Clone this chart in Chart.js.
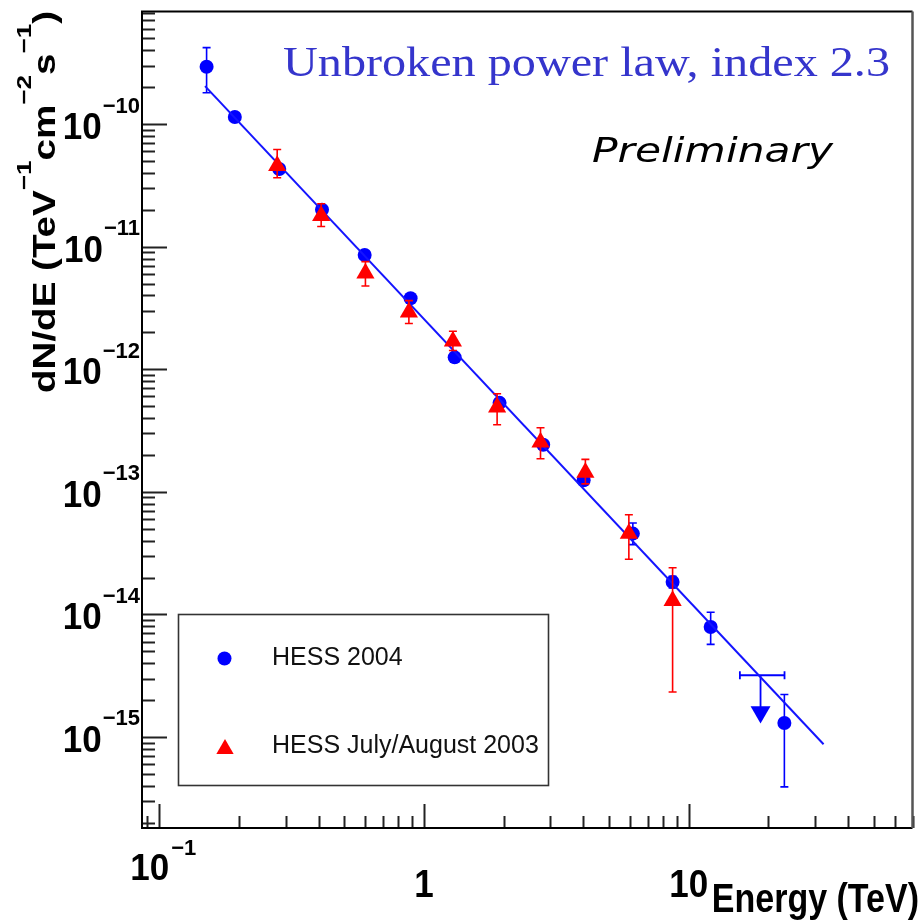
<!DOCTYPE html>
<html>
<head>
<meta charset="utf-8">
<title>HESS spectrum - unbroken power law</title>
<script src="https://cdn.jsdelivr.net/npm/chart.js@4.4.0/dist/chart.umd.min.js"></script>
<style>
    html, body { margin: 0; padding: 0; background: #fff; }
    #wrap { width: 924px; height: 924px; }
</style>
</head>
<body>
<div id="wrap"><canvas id="chartSpectrum" width="924" height="924"></canvas></div>
<script>
"use strict";

// ============================
// Data
// ============================
const seriesLabels = ["HESS 2004", "HESS July/August 2003"];

// HESS 2004 (blue circles)
const hess04Energy = [0.151, 0.193, 0.284, 0.412, 0.597, 0.89, 1.306, 1.93, 2.82, 4.01, 6.15, 8.69, 12.1, 22.97];
const hess04Flux   = [2.93e-10, 1.14e-10, 4.3e-11, 2.0e-11, 8.55e-12, 3.79e-12, 1.25e-12, 5.32e-13, 2.42e-13, 1.24e-13, 4.56e-14, 1.84e-14, 7.89e-15, 1.30e-15];
const hess04FluxHi = [4.2e-10, 1.22e-10, 4.6e-11, 2.12e-11, 9.0e-12, 3.98e-12, 1.31e-12, 5.65e-13, 2.62e-13, 1.36e-13, 5.56e-14, 2.05e-14, 1.04e-14, 2.22e-15];
const hess04FluxLo = [1.8e-10, 1.07e-10, 4.0e-11, 1.88e-11, 8.1e-12, 3.6e-12, 1.19e-12, 5.0e-13, 2.22e-13, 1.14e-13, 3.71e-14, 1.64e-14, 5.7e-15, 3.92e-16];

// HESS July/August 2003 (red triangles)
const hess03Energy = [0.279, 0.409, 0.601, 0.877, 1.286, 1.889, 2.755, 4.07, 5.94, 8.69];
const hess03Flux   = [4.57e-11, 1.79e-11, 6.08e-12, 2.92e-12, 1.69e-12, 4.9e-13, 2.54e-13, 1.44e-13, 4.56e-14, 1.29e-14];
const hess03FluxHi = [6.2e-11, 2.24e-11, 7.55e-12, 3.63e-12, 2.04e-12, 6.3e-13, 3.33e-13, 1.84e-13, 6.5e-14, 2.4e-14];
const hess03FluxLo = [3.65e-11, 1.46e-11, 4.78e-12, 2.36e-12, 1.42e-12, 3.52e-13, 1.86e-13, 1.16e-13, 2.82e-14, 2.33e-15];

// HESS 2004 upper limit (bin width + arrow)
const ulEnergy   = [18.67];
const ulEnergyLo = [15.6];
const ulEnergyHi = [23.0];
const ulFlux     = [3.19e-15];
const ulMarkFlux = [1.6e-15];

// Power law fit, index 2.3
const fitEnergy = [0.149, 32.3];
const fitFlux   = [2.04e-10, 8.73e-16];

// Axes
const xRange = [0.0861, 70];
const yRange = [1.81e-16, 8.28e-10];
const xTickValues = [0.1, 1, 10];
const xTickBase   = ["10", "1", "10"];
const xTickExp    = ["\u22121", "", ""];
const yTickValues = [1e-15, 1e-14, 1e-13, 1e-12, 1e-11, 1e-10];
const yTickExp    = ["\u221215", "\u221214", "\u221213", "\u221212", "\u221211", "\u221210"];
const minorSteps  = [2, 3, 4, 5, 6, 7, 8, 9];

// Texts
const yTitleParts = [
    { t: "dN/dE (TeV", sup: false },
    { t: "\u22121", sup: true },
    { t: "cm", sup: false },
    { t: "\u22122", sup: true },
    { t: "s", sup: false },
    { t: "\u22121", sup: true },
    { t: ")", sup: false },
];
const xTitleText = "Energy (TeV)";
const titleText = "Unbroken power law, index 2.3";
const prelimText = "Preliminary";

// ============================
// Helpers
// ============================
const SANS = "'Liberation Sans', Arial, Helvetica, sans-serif";
const BLUE = "#0000ff";
const RED = "#ff0000";

function toPoints(xs, ys) {
    return xs.map((x, i) => ({ x, y: ys[i] }));
}

function drawText(ctx, text, x, y, font, opts) {
    opts = opts || {};
    ctx.save();
    ctx.font = font;
    ctx.fillStyle = opts.color || "#000";
    ctx.textBaseline = "alphabetic";
    ctx.textAlign = "left";
    const w = ctx.measureText(text).width;
    const sx = opts.fitWidth ? opts.fitWidth / w : (opts.sx || 1);
    const sy = opts.sy || 1;
    let left = x;
    if (opts.align === "right") left = x - w * sx;
    else if (opts.align === "center") left = x - (w * sx) / 2;
    ctx.translate(left, y);
    ctx.scale(sx, sy);
    ctx.fillText(text, 0, 0);
    ctx.restore();
    return w * sx;
}

function triPath(ctx, cx, cy, r, down) {
    const s = down ? -1 : 1;
    ctx.beginPath();
    ctx.moveTo(cx, cy - s * r);
    ctx.lineTo(cx + r * 0.866, cy + s * r / 2);
    ctx.lineTo(cx - r * 0.866, cy + s * r / 2);
    ctx.closePath();
}

function drawVBars(chart, xs, lo, hi, color) {
    const { ctx, scales } = chart;
    ctx.save();
    ctx.strokeStyle = color;
    ctx.lineWidth = 1.6;
    xs.forEach((e, i) => {
        const px = scales.x.getPixelForValue(e);
        const pLo = scales.y.getPixelForValue(lo[i]);
        const pHi = scales.y.getPixelForValue(hi[i]);
        ctx.beginPath();
        ctx.moveTo(px, pLo);
        ctx.lineTo(px, pHi);
        ctx.moveTo(px - 4, pLo);
        ctx.lineTo(px + 4, pLo);
        ctx.moveTo(px - 4, pHi);
        ctx.lineTo(px + 4, pHi);
        ctx.stroke();
    });
    ctx.restore();
}

function drawUpperLimit(chart) {
    const { ctx, scales } = chart;
    ctx.save();
    ctx.strokeStyle = BLUE;
    ctx.lineWidth = 1.8;
    ulEnergy.forEach((e, i) => {
        const px = scales.x.getPixelForValue(e);
        const pL = scales.x.getPixelForValue(ulEnergyLo[i]);
        const pR = scales.x.getPixelForValue(ulEnergyHi[i]);
        const py = scales.y.getPixelForValue(ulFlux[i]);
        const pm = scales.y.getPixelForValue(ulMarkFlux[i]);
        ctx.beginPath();
        ctx.moveTo(pL, py);
        ctx.lineTo(pR, py);
        ctx.moveTo(pL, py - 4);
        ctx.lineTo(pL, py + 4);
        ctx.moveTo(pR, py - 4);
        ctx.lineTo(pR, py + 4);
        ctx.moveTo(px, py);
        ctx.lineTo(px, pm);
        ctx.stroke();
    });
    ctx.restore();
}

// ============================
// ROOT-like frame, ticks, labels
// ============================
function drawFrame(chart) {
    const { ctx, chartArea: a, scales } = chart;
    ctx.save();

    // ticks, pointing inwards
    ctx.strokeStyle = "#222";
    ctx.lineWidth = 2;
    ctx.beginPath();
    for (let ex = -17; ex <= -9; ex++) {
        [1].concat(minorSteps).forEach((m) => {
            const v = m * Math.pow(10, ex);
            if (v < yRange[0] || v > yRange[1]) return;
            const py = Math.round(scales.y.getPixelForValue(v)) + 0.5;
            ctx.moveTo(a.left, py);
            ctx.lineTo(a.left + (m === 1 ? 25 : 13), py);
        });
    }
    for (let ex = -2; ex <= 2; ex++) {
        [1].concat(minorSteps).forEach((m) => {
            const v = m * Math.pow(10, ex);
            if (v < xRange[0] || v > xRange[1]) return;
            const px = Math.round(scales.x.getPixelForValue(v)) + 0.5;
            ctx.moveTo(px, a.bottom);
            ctx.lineTo(px, a.bottom - (m === 1 ? 24 : 12));
        });
    }
    ctx.stroke();

    // frame
    ctx.lineWidth = 2;
    ctx.strokeStyle = "#000";
    ctx.beginPath();
    ctx.moveTo(a.right, a.top);
    ctx.lineTo(a.left, a.top);
    ctx.lineTo(a.left, a.bottom);
    ctx.lineTo(a.right, a.bottom);
    ctx.stroke();
    ctx.strokeStyle = "#555";
    ctx.lineWidth = 2.5;
    ctx.beginPath();
    ctx.moveTo(a.right, a.top);
    ctx.lineTo(a.right, a.bottom);
    ctx.stroke();
    ctx.restore();
}

function drawAxisLabels(chart) {
    const { ctx, scales } = chart;
    const big = "bold 35px " + SANS;
    const small = "bold 22px " + SANS;

    // y tick labels: 10^-n
    yTickValues.forEach((v, i) => {
        const py = scales.y.getPixelForValue(v);
        const we = drawText(ctx, yTickExp[i], 140, py - 11.5, small, { align: "right" });
        drawText(ctx, "10", 140 - we - 1, py + 15, big, { align: "right", sy: 1.07 });
    });

    // x tick labels
    xTickValues.forEach((v, i) => {
        const px = scales.x.getPixelForValue(v);
        if (xTickExp[i]) {
            drawText(ctx, xTickBase[i], px - 29, 880, big, { sy: 1.07 });
            drawText(ctx, xTickExp[i], px + 12, 855, small);
        } else {
            drawText(ctx, xTickBase[i], px, 897, big, { align: "center", sy: 1.1 });
        }
    });

    // x title
    drawText(ctx, xTitleText, 919, 912, "bold 34px " + SANS, { align: "right", sy: 1.22 });

    // y title, rotated, with ROOT-style raised superscripts
    const mainF = "bold 31px " + SANS;
    const supF = "bold 21px " + SANS;
    ctx.save();
    let total = 0;
    const widths = yTitleParts.map((p) => {
        ctx.font = p.sup ? supF : mainF;
        const w = ctx.measureText(p.t).width;
        total += w;
        return w;
    });
    ctx.translate(55, 393);
    ctx.rotate(-Math.PI / 2);
    ctx.scale(382 / total, 1);
    ctx.fillStyle = "#000";
    ctx.textBaseline = "alphabetic";
    let cx = 0;
    yTitleParts.forEach((p, i) => {
        ctx.font = p.sup ? supF : mainF;
        ctx.fillText(p.t, cx, p.sup ? -24 : 0);
        cx += widths[i];
    });
    ctx.restore();
}

function drawAnnotations(chart) {
    const { ctx } = chart;
    drawText(ctx, titleText, 283, 76, "42px 'Liberation Serif', 'Times New Roman', serif",
        { color: "#3535cc", fitWidth: 607 });
    drawText(ctx, prelimText, 592, 162, "italic 34px 'DejaVu Sans', Verdana, sans-serif",
        { color: "#000", fitWidth: 241 });

    // legend box
    ctx.save();
    ctx.strokeStyle = "#333";
    ctx.lineWidth = 1.6;
    ctx.strokeRect(178.5, 614.5, 370, 171);
    ctx.fillStyle = BLUE;
    ctx.beginPath();
    ctx.arc(224.5, 658.5, 7, 0, Math.PI * 2);
    ctx.fill();
    ctx.fillStyle = RED;
    triPath(ctx, 225, 749, 10, false);
    ctx.fill();
    ctx.restore();
    const legF = "25px " + SANS;
    drawText(ctx, seriesLabels[0], 272, 665, legF, { color: "#111" });
    drawText(ctx, seriesLabels[1], 272, 753, legF, { color: "#111" });
}

const rootStyle = {
    id: "rootStyle",
    beforeDatasetDraw(chart, args) {
        const label = chart.data.datasets[args.index].label;
        if (label === seriesLabels[0]) drawVBars(chart, hess04Energy, hess04FluxLo, hess04FluxHi, BLUE);
        if (label === seriesLabels[1]) drawVBars(chart, hess03Energy, hess03FluxLo, hess03FluxHi, RED);
        if (label === "upper limit") drawUpperLimit(chart);
    },
    afterDraw(chart) {
        drawFrame(chart);
        drawAxisLabels(chart);
        drawAnnotations(chart);
    },
};

// ============================
// Chart
// ============================
function initSpectrum() {
    const canvas = document.getElementById("chartSpectrum");
    if (!canvas || !window.Chart) return;

    new Chart(canvas, {
        type: "scatter",
        data: {
            datasets: [
                {
                    label: seriesLabels[1],
                    data: toPoints(hess03Energy, hess03Flux),
                    pointStyle: "triangle",
                    pointRadius: 10.5,
                    backgroundColor: RED,
                    pointBackgroundColor: RED,
                    pointBorderWidth: 0,
                    showLine: false,
                },
                {
                    label: "fit",
                    data: toPoints(fitEnergy, fitFlux),
                    showLine: true,
                    borderColor: "#1414ff",
                    borderWidth: 2,
                    pointRadius: 0,
                },
                {
                    label: seriesLabels[0],
                    data: toPoints(hess04Energy, hess04Flux),
                    pointStyle: "circle",
                    pointRadius: 7,
                    backgroundColor: BLUE,
                    pointBackgroundColor: BLUE,
                    pointBorderWidth: 0,
                    showLine: false,
                },
                {
                    label: "upper limit",
                    data: toPoints(ulEnergy, ulMarkFlux),
                    pointStyle: "triangle",
                    pointRotation: 180,
                    pointRadius: 11.5,
                    backgroundColor: BLUE,
                    pointBackgroundColor: BLUE,
                    pointBorderWidth: 0,
                    showLine: false,
                },
            ],
        },
        options: {
            responsive: false,
            animation: false,
            layout: { padding: { left: 142, top: 11, right: 8, bottom: 96 } },
            scales: {
                x: { type: "logarithmic", min: xRange[0], max: xRange[1], bounds: "data", display: false },
                y: { type: "logarithmic", min: yRange[0], max: yRange[1], bounds: "data", display: false },
            },
            plugins: {
                legend: { display: false },
                tooltip: { enabled: false },
            },
        },
        plugins: [rootStyle],
    });
}

initSpectrum();
</script>
</body>
</html>
